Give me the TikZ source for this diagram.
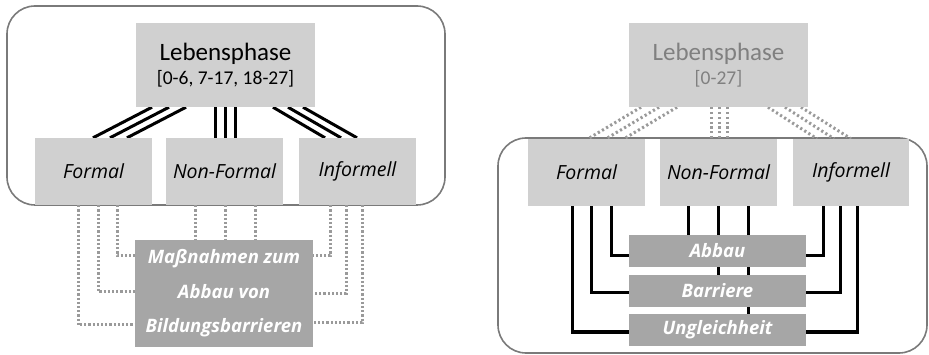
\documentclass[tikz,border=0pt]{standalone}
\usepackage{fontspec}
\setmainfont{Carlito}
\newfontfamily\osans{Open Sans}
\begin{document}
\begin{tikzpicture}[x=1pt,y=-1pt]
\definecolor{boxlight}{HTML}{D0D0D0}
\definecolor{boxdark}{HTML}{A6A6A6}
\definecolor{framegray}{HTML}{7A7A7A}
\definecolor{ltext}{HTML}{808080}
\definecolor{dotgray}{HTML}{9A9A9A}
\pgfdeclarelayer{bg}
\pgfsetlayers{bg,main}
\tikzset{
  lbox/.style={fill=boxlight, inner sep=0pt, anchor=center},
  dbox/.style={fill=boxdark, inner sep=0pt, anchor=center, text=white,
     font=\osans\bfseries\itshape\fontsize{18.5}{34.5}\selectfont, align=center},
  cat/.style={lbox, minimum width=117pt, minimum height=67pt, font=\osans\itshape\fontsize{19.5}{22}\selectfont},
  frame/.style={draw=framegray, line width=1.6pt, rounded corners=28pt},
  solid3/.style={line width=3pt, black},
  dot3/.style={line width=3pt, dotgray, dash pattern=on 2.2pt off 2.6pt},
  dotline/.style={line width=3pt, dotgray, dash pattern=on 2.2pt off 2pt},
  sbox/.style={dbox, minimum width=177pt, minimum height=32pt, font=\osans\bfseries\itshape\fontsize{18.5}{22}\selectfont},
}
\useasboundingbox (0,0) rectangle (929,355);
% ---------------- left panel ----------------
\node[lbox, minimum width=179pt, minimum height=84pt, align=center] (leb1) at (225.5,65)
  {\fontsize{25}{28}\selectfont Lebensphase\\[5pt]\fontsize{19.5}{22}\selectfont [0-6, 7-17, 18-27]};
\node[cat] (fo1) at (93.5,171.5) {Formal};
\node[cat] (nf1) at (224.5,171.5) {Non-Formal};
\node[cat] (in1) at (357.5,171.5) {Informell};
\node[dbox, minimum width=178pt, minimum height=107pt] (mass) at (224,293.5)
  {Maßnahmen zum\\Abbau von\\Bildungsbarrieren};
% ---------------- right panel ----------------
\node[lbox, minimum width=179pt, minimum height=84pt, align=center, text=ltext] (leb2) at (718.5,65)
  {\fontsize{25}{28}\selectfont Lebensphase\\[5pt]\fontsize{19.5}{22}\selectfont [0-27]};
\node[cat] (fo2) at (586.5,172.5) {Formal};
\node[cat] (nf2) at (718.5,172.5) {Non-Formal};
\node[cat, minimum width=116pt] (in2) at (851,172.5) {Informell};
\node[sbox] (abb) at (717.5,251) {Abbau};
\node[sbox] (bar) at (717.5,291) {Barriere};
\node[sbox] (ung) at (717.5,330) {Ungleichheit};
\begin{pgfonlayer}{bg}
  % frames
  \draw[frame] (7,6) rectangle (445,205);
  \draw[frame] (498,138) rectangle (927,353);
  % left: Lebensphase -> categories
  \draw[solid3] (leb1.south -| 152,0) -- (fo1.north -| 93,0);
  \draw[solid3] (leb1.south -| 169,0) -- (fo1.north -| 110,0);
  \draw[solid3] (leb1.south -| 186,0) -- (fo1.north -| 127,0);
  \draw[solid3] (leb1.south -| 215,0) -- (nf1.north -| 215,0);
  \draw[solid3] (leb1.south -| 225,0) -- (nf1.north -| 225,0);
  \draw[solid3] (leb1.south -| 235,0) -- (nf1.north -| 235,0);
  \draw[solid3] (leb1.south -| 273,0) -- (in1.north -| 325,0);
  \draw[solid3] (leb1.south -| 288,0) -- (in1.north -| 341,0);
  \draw[solid3] (leb1.south -| 303,0) -- (in1.north -| 357,0);
  % left: categories -> measures (dotted)
  \draw[dotline] (fo1.south -| 78,0) |- (mass.west |- 0,325);
  \draw[dotline] (fo1.south -| 98,0) |- (mass.west |- 0,292);
  \draw[dotline] (fo1.south -| 117,0) |- (mass.west |- 0,256);
  \draw[dotline] (nf1.south -| 195,0) -- (mass.north -| 195,0);
  \draw[dotline] (nf1.south -| 225,0) -- (mass.north -| 225,0);
  \draw[dotline] (nf1.south -| 255,0) -- (mass.north -| 255,0);
  \draw[dotline] (in1.south -| 330,0) |- (mass.east |- 0,256);
  \draw[dotline] (in1.south -| 346,0) |- (mass.east |- 0,294);
  \draw[dotline] (in1.south -| 362,0) |- (mass.east |- 0,323);
  % right: Lebensphase -> categories (dotted)
  \draw[dot3] (leb2.south -| 641,0) -- (fo2.north -| 588,0);
  \draw[dot3] (leb2.south -| 659,0) -- (fo2.north -| 606,0);
  \draw[dot3] (leb2.south -| 677,0) -- (fo2.north -| 624,0);
  \draw[dot3] (leb2.south -| 711,0) -- (nf2.north -| 711,0);
  \draw[dot3] (leb2.south -| 719,0) -- (nf2.north -| 719,0);
  \draw[dot3] (leb2.south -| 727,0) -- (nf2.north -| 727,0);
  \draw[dot3] (leb2.south -| 768,0) -- (in2.north -| 817,0);
  \draw[dot3] (leb2.south -| 785,0) -- (in2.north -| 834,0);
  \draw[dot3] (leb2.south -| 801,0) -- (in2.north -| 851,0);
  % right: categories -> boxes (solid)
  \draw[solid3] (fo2.south -| 572,0) |- (ung.west |- 0,332);
  \draw[solid3] (fo2.south -| 591,0) |- (bar.west |- 0,293);
  \draw[solid3] (fo2.south -| 611,0) |- (abb.west |- 0,256);
  \draw[solid3] (nf2.south -| 688,0) -- (abb.north -| 688,0);
  \draw[solid3] (nf2.south -| 718,0) -- (bar.north -| 718,0);
  \draw[solid3] (nf2.south -| 748,0) -- (ung.north -| 748,0);
  \draw[solid3] (in2.south -| 823,0) |- (abb.east |- 0,256);
  \draw[solid3] (in2.south -| 840,0) |- (bar.east |- 0,293);
  \draw[solid3] (in2.south -| 857,0) |- (ung.east |- 0,332);
\end{pgfonlayer}
\end{tikzpicture}
\end{document}
